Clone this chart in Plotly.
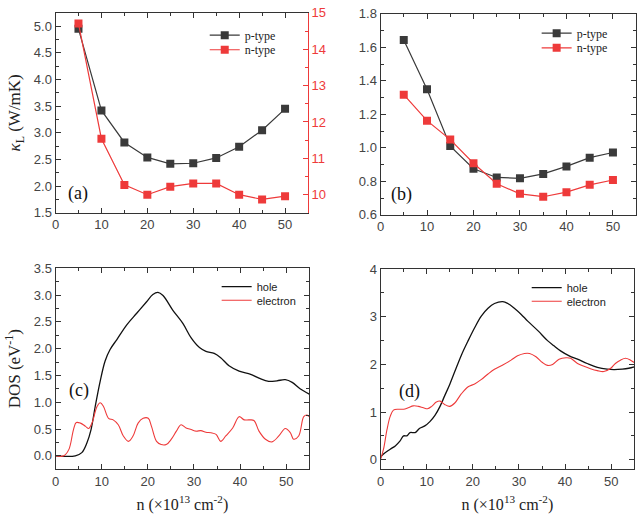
import plotly.graph_objects as go

# ---------------- data ----------------
n_kl = [5, 10, 15, 20, 25, 30, 35, 40, 45, 50]
a_p = [4.95, 3.42, 2.82, 2.54, 2.42, 2.43, 2.53, 2.74, 3.05, 3.45]
a_n = [14.71, 11.54, 10.27, 10.0, 10.22, 10.31, 10.31, 10.0, 9.87, 9.96]
b_p = [1.644, 1.349, 1.01, 0.875, 0.823, 0.818, 0.844, 0.889, 0.941, 0.972]
b_n = [1.317, 1.162, 1.049, 0.908, 0.785, 0.725, 0.708, 0.735, 0.779, 0.808]

c_hole_x = [0, 4.3, 5.7, 6.8, 7.7, 8.6, 9.7, 10.75, 11.8, 13.3, 15.4, 17.6, 19.7, 21.1, 22.2, 23.3,
            25.4, 27.6, 29.4, 31.2, 32.6, 34.4, 35.8, 37.6, 39.8, 42.3, 44.1, 46.2, 48.0, 49.8,
            51.3, 53.0, 55.0]
c_hole_y = [0, 0, 0.06, 0.24, 0.49, 0.92, 1.40, 1.77, 1.98, 2.17, 2.44, 2.66, 2.87, 3.01, 3.05, 2.99,
            2.72, 2.47, 2.20, 2.02, 1.95, 1.91, 1.83, 1.68, 1.58, 1.52, 1.45, 1.39, 1.40, 1.42,
            1.37, 1.25, 1.15]
c_elec_x = [0, 1.8, 2.9, 3.9, 4.5, 5.4, 6.5, 7.2, 7.9, 9.0, 9.7, 10.4, 11.5, 12.5, 13.6, 14.7,
            15.8, 16.8, 17.9, 19.0, 20.1, 20.8, 21.9, 22.9, 24.0, 25.1, 26.2, 27.2, 28.3, 29.4,
            30.5, 31.5, 32.6, 33.7, 34.8, 35.8, 36.9, 38.4, 39.8, 40.9, 41.9, 43.0, 44.1, 45.5,
            46.9, 48.4, 49.8, 50.9, 51.6, 52.7, 53.8, 54.5, 55.0]
c_elec_y = [0, 0, 0.12, 0.49, 0.62, 0.61, 0.55, 0.51, 0.61, 0.92, 0.99, 0.92, 0.70, 0.67, 0.58, 0.37,
            0.27, 0.37, 0.61, 0.70, 0.70, 0.55, 0.27, 0.21, 0.21, 0.31, 0.46, 0.58, 0.52, 0.49,
            0.46, 0.47, 0.44, 0.43, 0.40, 0.27, 0.37, 0.52, 0.73, 0.67, 0.67, 0.66, 0.46, 0.31,
            0.26, 0.37, 0.51, 0.43, 0.31, 0.37, 0.73, 0.76, 0.73]

d_hole_x = [0, 0.65, 2.1, 3.2, 4.2, 5.0, 5.7, 6.4, 7.5, 8.5, 9.6, 10.7, 11.8, 12.9, 13.9, 15.0,
            16.1, 17.5, 19.0, 20.4, 21.8, 23.3, 24.7, 26.5, 27.6, 29.0, 30.5, 31.9, 34.1, 36.2,
            37.6, 39.1, 40.9, 42.7, 44.8, 47.0, 49.1, 50.6, 52.4, 53.8, 55.0]
d_hole_y = [0.05, 0.12, 0.22, 0.29, 0.39, 0.50, 0.50, 0.57, 0.57, 0.66, 0.71, 0.80, 0.93, 1.12, 1.34, 1.58,
            1.85, 2.19, 2.50, 2.77, 3.01, 3.18, 3.28, 3.32, 3.28, 3.18, 3.05, 2.91, 2.71, 2.50,
            2.39, 2.28, 2.18, 2.11, 2.02, 1.94, 1.90, 1.89, 1.90, 1.92, 1.95]
d_elec_x = [0, 0.65, 1.4, 2.1, 2.8, 3.9, 5.0, 6.0, 7.1, 8.2, 9.3, 10.2, 11.1, 12.1, 12.9, 13.9,
            15.0, 16.1, 17.5, 19.0, 20.4, 21.8, 23.3, 24.7, 26.5, 28.3, 29.7, 31.2, 32.3, 33.7,
            35.1, 36.2, 37.3, 38.7, 40.2, 41.2, 42.7, 44.1, 45.5, 47.0, 48.4, 49.9, 50.9, 52.0,
            53.1, 54.2, 55.0]
d_elec_y = [0, 0.22, 0.63, 0.91, 1.04, 1.06, 1.06, 1.09, 1.13, 1.12, 1.09, 1.07, 1.12, 1.21, 1.23, 1.16,
            1.12, 1.19, 1.38, 1.53, 1.59, 1.68, 1.80, 1.90, 1.99, 2.09, 2.18, 2.23, 2.23, 2.16,
            2.04, 1.98, 2.00, 2.11, 2.14, 2.13, 2.02, 1.96, 1.91, 1.87, 1.85, 1.92, 2.02, 2.09,
            2.13, 2.09, 2.04]

x_ticks = [0, 10, 20, 30, 40, 50]

# ---------------- style ----------------
BLK = "#3a3a3a"
RED = "#ee3a3a"
AX = "#333333"
SANS = "Liberation Sans, Arial, sans-serif"
TICKFONT = dict(family=SANS, size=13, color="#444444")
SERIF = "Liberation Serif, Times New Roman, serif"

fig = go.Figure()

# (a)
fig.add_trace(go.Scatter(x=n_kl, y=a_p, mode="lines+markers", name="p-type", showlegend=True,
                         line=dict(color=BLK, width=1.2), marker=dict(symbol="square", size=8, color=BLK),
                         xaxis="x", yaxis="y", legend="legend"))
fig.add_trace(go.Scatter(x=n_kl, y=a_n, mode="lines+markers", name="n-type",
                         line=dict(color=RED, width=1.2), marker=dict(symbol="square", size=8, color=RED),
                         xaxis="x", yaxis="y5", legend="legend2"))
# (b)
fig.add_trace(go.Scatter(x=n_kl, y=b_p, mode="lines+markers", name="p-type",
                         line=dict(color=BLK, width=1.2), marker=dict(symbol="square", size=8, color=BLK),
                         xaxis="x2", yaxis="y2", legend="legend3"))
fig.add_trace(go.Scatter(x=n_kl, y=b_n, mode="lines+markers", name="n-type",
                         line=dict(color=RED, width=1.2), marker=dict(symbol="square", size=8, color=RED),
                         xaxis="x2", yaxis="y2", legend="legend4"))
# (c)
fig.add_trace(go.Scatter(x=c_hole_x, y=c_hole_y, mode="lines", name="hole", line_shape="spline",
                         line=dict(color="#111111", width=1.3), xaxis="x3", yaxis="y3", legend="legend5"))
fig.add_trace(go.Scatter(x=c_elec_x, y=c_elec_y, mode="lines", name="electron", line_shape="spline",
                         line=dict(color=RED, width=1.1), xaxis="x3", yaxis="y3", legend="legend6"))
# (d)
fig.add_trace(go.Scatter(x=d_hole_x, y=d_hole_y, mode="lines", name="hole", line_shape="spline",
                         line=dict(color="#111111", width=1.3), xaxis="x4", yaxis="y4", legend="legend7"))
fig.add_trace(go.Scatter(x=d_elec_x, y=d_elec_y, mode="lines", name="electron", line_shape="spline",
                         line=dict(color=RED, width=1.1), xaxis="x4", yaxis="y4", legend="legend8"))


def xax(domain, anchor, title=None):
    d = dict(domain=domain, anchor=anchor, range=[0, 55], tickvals=x_ticks, ticks="inside",
             ticklen=5, tickcolor=AX, showline=True, linecolor=AX, linewidth=1, mirror="ticks",
             showgrid=False, zeroline=False, tickfont=TICKFONT,
             minor=dict(dtick=5, tick0=0, ticks="inside", ticklen=3, tickcolor=AX))
    if title:
        d["title"] = dict(text=title, font=dict(family=SERIF, size=16, color="#222"), standoff=10)
    return d


def yax(domain, anchor, rng, dtick, tickformat, title=None, mirror="ticks"):
    d = dict(domain=domain, anchor=anchor, range=rng, dtick=dtick, tick0=0, tickformat=tickformat,
             ticks="inside", ticklen=5, tickcolor=AX, showline=True, linecolor=AX, linewidth=1,
             mirror=mirror, showgrid=False, zeroline=False, tickfont=TICKFONT,
             minor=dict(dtick=dtick / 2, ticks="inside", ticklen=3, tickcolor=AX))
    if title:
        d["title"] = dict(text=title, font=dict(family=SERIF, size=17, color="#222"), standoff=8)
    return d


def leg(xpx, ypx, font):
    # one legend per item so the item spacing can follow the reference
    return dict(x=xpx / 640, y=1 - ypx / 519, xanchor="left", yanchor="middle",
                bgcolor="rgba(0,0,0,0)", font=font, tracegroupgap=0, visible=True)


LEG_SERIF = dict(family=SERIF, size=12, color="#222")
LEG_SANS = dict(family=SANS, size=11, color="#222")

fig.update_layout(
    width=640, height=519, margin=dict(l=0, r=0, t=0, b=0),
    paper_bgcolor="white", plot_bgcolor="white", showlegend=True,
    xaxis=xax([0.081, 0.478], "y"),
    yaxis=yax([0.5915, 0.9884], "x", [1.5, 5.25], 0.5, ".1f",
              "<i>κ</i><sub>L</sub> (W/mK)", mirror=False),
    yaxis5=dict(overlaying="y", side="right", anchor="x", range=[9.5, 15], dtick=1,
                ticks="inside", ticklen=5, tickcolor=RED, showline=True, linecolor=RED, linewidth=1,
                showgrid=False, zeroline=False,
                tickfont=dict(family=SANS, size=13, color=RED),
                minor=dict(dtick=0.5, ticks="inside", ticklen=3, tickcolor=RED)),
    xaxis2=xax([0.592, 0.994], "y2"),
    yaxis2=yax([0.5877, 0.9865], "x2", [0.6, 1.8], 0.2, ".1f"),
    xaxis3=xax([0.081, 0.480], "y3", "n (×10<sup>13</sup> cm<sup>-2</sup>)"),
    yaxis3=yax([0.0829, 0.4817], "x3", [-0.25, 3.5], 0.5, ".1f", "DOS (eV<sup>-1</sup>)"),
    xaxis4=xax([0.592, 0.991], "y4", "n (×10<sup>13</sup> cm<sup>-2</sup>)"),
    yaxis4=yax([0.0829, 0.4798], "x4", [-0.2, 4], 1, "d"),
    legend=leg(202, 29, LEG_SERIF),
    legend2=leg(202, 44, LEG_SERIF),
    legend3=leg(536, 27, LEG_SERIF),
    legend4=leg(536, 42, LEG_SERIF),
    legend5=leg(214, 288, LEG_SANS),
    legend6=leg(214, 302, LEG_SANS),
    legend7=leg(526, 289, LEG_SANS),
    legend8=leg(526, 303, LEG_SANS),
    annotations=[
        dict(text="(a)", xref="x domain", yref="y domain", x=0.04, y=0.095, xanchor="left",
             yanchor="middle", showarrow=False, font=dict(family=SERIF, size=18, color="#111")),
        dict(text="(b)", xref="x2 domain", yref="y2 domain", x=0.035, y=0.1, xanchor="left",
             yanchor="middle", showarrow=False, font=dict(family=SERIF, size=18, color="#111")),
        dict(text="(c)", xref="x3 domain", yref="y3 domain", x=0.045, y=0.39, xanchor="left",
             yanchor="middle", showarrow=False, font=dict(family=SERIF, size=18, color="#111")),
        dict(text="(d)", xref="x4 domain", yref="y4 domain", x=0.065, y=0.39, xanchor="left",
             yanchor="middle", showarrow=False, font=dict(family=SERIF, size=18, color="#111")),
    ],
)

fig.write_html("out.html")
